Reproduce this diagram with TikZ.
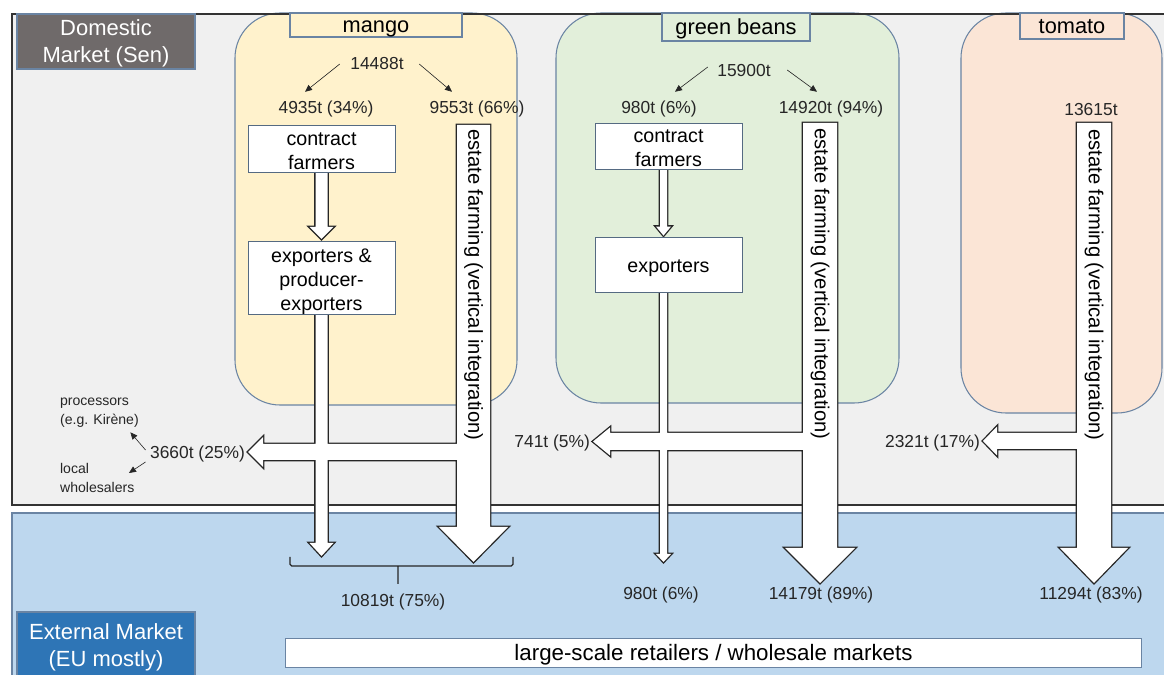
\documentclass[tikz,border=0pt]{standalone}
\usepackage{fontspec}
\setmainfont{Liberation Sans}
\usetikzlibrary{arrows.meta,calc,backgrounds}

\definecolor{domgray}{HTML}{F0F0F0}
\definecolor{extblue}{HTML}{BDD7EE}
\definecolor{labgray}{HTML}{6F6A6A}
\definecolor{labblue}{HTML}{2E75B6}
\definecolor{mangofill}{HTML}{FFF2CC}
\definecolor{beanfill}{HTML}{E2EFDA}
\definecolor{tomfill}{HTML}{FBE5D6}
\definecolor{edgeblue}{HTML}{6A84A3}

\newcommand{\szLab}{\fontsize{12.5}{15.4}\selectfont}
\newcommand{\szCrop}{\fontsize{12.4}{14}\selectfont}
\newcommand{\szBox}{\fontsize{11.2}{13.7}\selectfont}
\newcommand{\szEst}{\fontsize{11.5}{13}\selectfont}
\newcommand{\szNum}{\fontsize{9.9}{12}\selectfont}
\newcommand{\szSmall}{\fontsize{8}{10.8}\selectfont}
\newcommand{\szRetail}{\fontsize{12.7}{14}\selectfont}
\newcommand{\lift}[1]{\rule{0pt}{#1}}

\begin{document}
\begin{tikzpicture}[x=0.02cm, y=-0.02cm,
  crop/.style={draw=edgeblue, line width=0.6pt, rounded corners=0.9cm},
  croplabel/.style={draw=edgeblue, line width=0.6pt, inner sep=0pt, font=\szCrop, text height=9.5pt, text depth=1.5pt},
  market/.style={draw=edgeblue, line width=0.6pt, text=white, align=center, inner sep=0pt, font=\szLab},
  stage/.style={draw=edgeblue!80!black, fill=white, line width=0.5pt, align=center, inner sep=0pt, minimum width=2.94cm, font=\szBox},
  qty/.style={font=\szNum, text=black!85, inner sep=1pt, yshift=-0.04cm},
  buyer/.style={font=\szSmall, text=black!85, inner sep=1pt, align=left, anchor=west},
  estate/.style={rotate=-90, anchor=west, inner sep=0pt, font=\szEst},
  flow/.style={fill=white, preaction={draw=black!85, line width=1.5pt}},
  split/.style={-{Triangle[length=4pt,width=3.5pt]}, line width=0.35pt, black!85}
]
\useasboundingbox (0,0) rectangle (1164,675);

% market panels and crop areas
\begin{scope}[on background layer]
\fill[domgray] (12,14) rectangle (1164,505);
\fill[extblue] (12,513) rectangle (1164,675);
\draw[edgeblue, line width=0.6pt] (1164,513) -- (12,513) -- (12,675);
\draw[crop, fill=mangofill] (235,13) rectangle (517,405);
\draw[crop, fill=beanfill] (556,13) rectangle (899,403);
\draw[crop, fill=tomfill] (961,13) rectangle (1162,413);
\draw[black!80, line width=0.85pt] (1164,14) -- (12,14) -- (12,505) -- (1164,505);
\end{scope}

\node[market, fill=labgray, minimum width=3.56cm, minimum height=1.1cm] (dom) at (106,41.5) {\lift{11pt}Domestic\\Market (Sen)};
\node[market, fill=labblue, minimum width=3.56cm, minimum height=1.3cm] (ext) at (106,644.5) {\lift{12.4pt}External Market\\(EU mostly)};

\node[croplabel, fill=mangofill, minimum width=3.44cm, minimum height=0.48cm] (mango) at (376,25) {mango};
\node[croplabel, fill=beanfill, minimum width=2.96cm, minimum height=0.56cm] (beans) at (736,27) {green beans};
\node[croplabel, fill=tomfill, minimum width=2.08cm, minimum height=0.52cm] (tomato) at (1072,26) {tomato};

% stages
\node[stage, minimum height=0.94cm] (cfM) at (321.5,148.5) {\lift{10pt}contract\\farmers};
\node[stage, minimum height=1.44cm] (exM) at (321.5,278) {\lift{12pt}exporters \&\\producer-\\exporters};
\node[stage, minimum height=0.92cm] (cfG) at (668.5,146) {\lift{10pt}contract\\farmers};
\node[stage, minimum height=1.1cm] (exG) at (668.5,264.5) {\lift{12pt}exporters};
\node[stage, draw=edgeblue, minimum width=17.14cm, minimum height=0.58cm, font=\szRetail, text height=10pt, text depth=1.4pt] (retail) at (713.5,652.5) {large-scale retailers / wholesale markets};

\node[estate] (estM) at (473.5,129) {estate farming (vertical integration)};
\node[estate] (estG) at (820,128) {estate farming (vertical integration)};
\node[estate] (estT) at (1094,129) {estate farming (vertical integration)};

% quantities
\node[qty] (mTot) at (377,62) {14488t};
\node[qty] (mA) at (326,107) {4935t (34\%)};
\node[qty] (mB) at (477,107) {9553t (66\%)};
\node[qty] (gTot) at (744,69) {15900t};
\node[qty] (gA) at (659,107) {980t (6\%)};
\node[qty] (gB) at (831,107) {14920t (94\%)};
\node[qty] (tTot) at (1091,108) {13615t};
\node[qty, anchor=east] (m25) at (247,452) {3660t (25\%)};
\node[qty, anchor=east] (g5) at (592,441) {741t (5\%)};
\node[qty, anchor=east] (t17) at (982,441) {2321t (17\%)};
\node[qty] (mOut) at (393,600) {10819t (75\%)};
\node[qty] (gOutA) at (661,593) {980t (6\%)};
\node[qty] (gOutB) at (821,593) {14179t (89\%)};
\node[qty] (tOut) at (1091,593) {11294t (83\%)};

\node[buyer] (proc) at (58,412.5) {processors\\(e.g. Kirène)};
\node[buyer] (lw) at (58,477.5) {local\\wholesalers};

\draw[split] ([xshift=-0.17cm]mTot.west) -- ([xshift=-0.42cm,yshift=0.14cm]mA.north);
\draw[split] ([xshift=0.27cm]mTot.east) -- ([xshift=-0.5cm,yshift=0.14cm]mB.north);
\draw[split] ([xshift=-0.15cm,yshift=0.08cm]gTot.west) -- ([xshift=0.32cm,yshift=0.14cm]gA.north);
\draw[split] ([xshift=0.29cm,yshift=0.02cm]gTot.east) -- ([xshift=-0.28cm,yshift=0.14cm]gB.north);
\draw[split] ([xshift=-0.05cm,yshift=0.08cm]m25.west) -- ([xshift=-0.21cm,yshift=-0.06cm]proc.south east);
\draw[split] ([xshift=-0.05cm,yshift=-0.16cm]m25.west) -- ([xshift=-0.15cm,yshift=0.09cm]lw.east);

% flows
\coordinate (mDown) at (321.5,556);
\coordinate (gDown) at (663.5,562);
\begin{scope}[on background layer]
\path[flow]
  ($(cfM.south)+(-6,0)$) -- ($(exM.north)+(-6,-14)$) -- ($(exM.north)+(-12,-14)$) -- ($(exM.north)+(0,-2)$)
    -- ($(exM.north)+(12,-14)$) -- ($(exM.north)+(6,-14)$) -- ($(cfM.south)+(6,0)$) -- cycle
  ($(exM.south)+(-6,0)$) -- ($(mDown)+(-6,-13)$) -- ($(mDown)+(-12,-13)$) -- (mDown)
    -- ($(mDown)+(12,-13)$) -- ($(mDown)+(6,-13)$) -- ($(exM.south)+(6,0)$) -- cycle
  (457,125) -- (457,527) -- (439,527) -- (473.5,562) -- (508,527) -- (490,527) -- (490,125) -- cycle
  (473.5,444) -- (263,444) -- (263,437) -- (248,452) -- (263,467) -- (263,460) -- (473.5,460) -- cycle
  ($(cfG.south)+(-8.5,0)$) -- ($(exG.north)+(-8.5,-10)$) -- ($(exG.north)+(-12.5,-10)$) -- ($(exG.north)+(-5,-1)$)
    -- ($(exG.north)+(2.5,-10)$) -- ($(exG.north)+(-1.5,-10)$) -- ($(cfG.south)+(-1.5,0)$) -- cycle
  ($(exG.south)+(-8.5,0)$) -- ($(gDown)+(-3.5,-8)$) -- ($(gDown)+(-7.5,-8)$) -- (gDown)
    -- ($(gDown)+(7.5,-8)$) -- ($(gDown)+(3.5,-8)$) -- ($(exG.south)+(-1.5,0)$) -- cycle
  (803,123) -- (803,548) -- (785,548) -- (820,583) -- (855,548) -- (837,548) -- (837,123) -- cycle
  (820,433) -- (610,433) -- (610,427.5) -- (593,441.5) -- (610,455.5) -- (610,450) -- (820,450) -- cycle
  (1077,123) -- (1077,548) -- (1060,548) -- (1094,583) -- (1128,548) -- (1111,548) -- (1111,123) -- cycle
  (1094,433) -- (997,433) -- (997,426.5) -- (983,441) -- (997,455.5) -- (997,449) -- (1094,449) -- cycle;
\end{scope}

\draw[black!85, line width=0.75pt, rounded corners=1pt] (290,557) -- (290,566) -- (513,566) -- (513,557) (398,566) -- (398,584);
\end{tikzpicture}
\end{document}
